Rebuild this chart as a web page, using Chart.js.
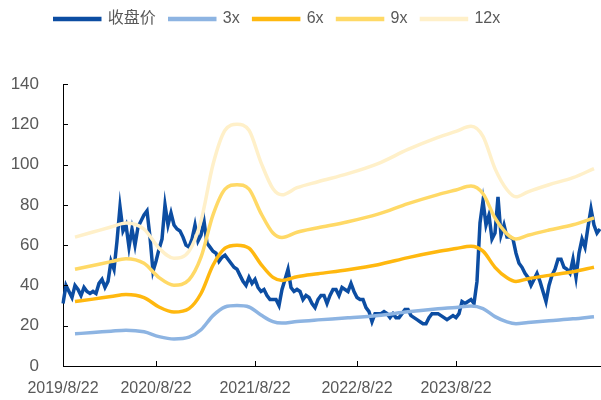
<!DOCTYPE html>
<html>
<head>
<meta charset="utf-8">
<script src="https://cdn.jsdelivr.net/npm/chart.js@4"></script>
<style>
  body { margin: 0; background: #fff; }
  #wrap { width: 601px; height: 400px; }
</style>
</head>
<body>
<div id="wrap"><canvas id="peBand"></canvas></div>
<script>
// closing price, one reading every few trading days
const closePrice = [
  31, 40, 37, 34, 40, 38, 35, 39, 37, 36,
  37, 36, 41, 43, 39, 42, 52, 48, 62, 79,
  67, 70, 59, 68, 60, 69, 72, 75, 77, 64,
  47, 52, 58, 63, 80, 70, 76, 70, 68, 67,
  64, 60, 59, 63, 70, 62, 65, 72, 61, 59,
  57, 56, 52, 54, 55, 53, 51, 49, 48, 45,
  42, 40, 44, 41, 43, 39, 37, 38, 35, 33,
  33, 33, 30, 38, 43, 48, 39, 37, 38, 37,
  33, 35, 34, 31, 29, 33, 35, 35, 31, 35,
  38, 38, 35, 39, 38, 37, 41, 37, 34, 33,
  33, 29, 27, 22, 26, 26, 26, 27, 26, 24,
  26, 24, 24, 26, 28, 28, 25, 24, 23, 22,
  21, 21, 24, 26, 26, 26, 25, 24, 23, 24,
  25, 24, 26, 32, 31, 32, 33, 31, 42, 71,
  82, 70, 75, 63, 66, 84, 65, 70, 64, 64,
  63, 56, 51, 49, 46, 44, 40, 43, 46, 42,
  37, 32, 40, 45, 48, 53, 53, 49, 48, 46,
  53, 44, 56, 63, 59, 69, 78, 70, 66, 68
];

// PE band lines, read at these positions of the price series
const bandAt = [4, 10, 16, 21, 27, 32, 37, 42, 46, 50, 54, 58, 62, 66, 70, 73, 78, 85,
                95, 105, 115, 125, 131, 136, 140, 144, 148, 151, 155, 162, 170, 177];
const pe3 = [16, 16.6, 17.3, 17.8, 17, 14.6, 13.4, 14.3, 18, 25, 29.3, 30, 29.3, 25.3, 22, 21.3, 22.1, 22.9,
             23.9, 25.1, 26.9, 28.4, 29.1, 29.8, 28.5, 24.5, 21.9, 21, 21.6, 22.5, 23.4, 24.5];
const pe6 = [32, 33.2, 34.5, 35.5, 34, 29.3, 26.8, 28.5, 36, 50, 58.5, 60, 58.5, 50.5, 44, 42.5, 44.3, 45.8,
             47.8, 50.3, 53.8, 56.8, 58.3, 59.5, 57, 49, 43.8, 42, 43.3, 45, 46.8, 49];
const pe9 = [48, 49.9, 51.8, 53.3, 51, 43.9, 40.1, 42.8, 54, 75, 87.8, 90, 87.8, 75.8, 66, 63.8, 66.4, 68.6,
             71.6, 75.4, 80.6, 85.1, 87.4, 89.3, 85.5, 73.5, 65.6, 63, 64.9, 67.5, 70.1, 73.5];
const pe12 = [64, 66.5, 69, 71, 68, 58.5, 53.5, 57, 72, 100, 117, 120, 117, 101, 88, 85, 88.5, 91.5,
              95.5, 100.5, 107.5, 113.5, 116.5, 119, 114, 98, 87.5, 84, 86.5, 90, 93.5, 98];

const tickIndex = [0, 31, 64, 98, 131];
const tickText = ['2019/8/22', '2020/8/22', '2021/8/22', '2022/8/22', '2023/8/22'];

const FONT = "Arial, 'Liberation Sans', 'Noto Sans CJK SC', sans-serif";
const GREY = '#595959';

function band(values) {
  return bandAt.map((idx, k) => ({ x: idx, y: values[k] }));
}

function bandSet(label, values, color) {
  return {
    label: label,
    data: band(values),
    borderColor: color,
    backgroundColor: color,
    borderWidth: 3.5,
    pointRadius: 0,
    cubicInterpolationMode: 'monotone',
    order: 0
  };
}

// legend sits higher and leaves room above the plot; ticks point inward
const layoutTweaks = {
  id: 'layoutTweaks',
  beforeInit(chart) {
    const lg = chart.legend;
    const fit = lg.fit;
    lg.fit = function () {
      fit.call(this);
      this.height = 84;
    };
  },
  afterLayout(chart) {
    const lg = chart.legend;
    lg.top = -3;
    lg.left = 0;
    lg.right = 555;
  },
  afterDraw(chart) {
    const ctx = chart.ctx;
    const area = chart.chartArea;
    const xs = chart.scales.x;
    const ys = chart.scales.y;
    ctx.save();
    ctx.strokeStyle = '#000';
    ctx.lineWidth = 1;
    ctx.beginPath();
    ys.ticks.forEach(t => {
      const y = Math.round(ys.getPixelForValue(t.value)) + 0.5;
      ctx.moveTo(area.left, y);
      ctx.lineTo(area.left + 5, y);
    });
    xs.ticks.forEach((t, i) => {
      if (i === 0) return;
      const x = Math.round(xs.getPixelForValue(t.value)) + 0.5;
      ctx.moveTo(x, area.bottom);
      ctx.lineTo(x, area.bottom - 5);
    });
    ctx.stroke();
    ctx.restore();
  }
};

new Chart(document.getElementById('peBand'), {
  type: 'line',
  data: {
    labels: closePrice.map((_, i) => i),
    datasets: [
      {
        label: '收盘价',
        data: closePrice,
        borderColor: '#0c4da2',
        backgroundColor: '#0c4da2',
        borderWidth: 3.5,
        pointRadius: 0,
        tension: 0,
        order: 1
      },
      bandSet('3x', pe3, '#8db4e2'),
      bandSet('6x', pe6, '#ffb80f'),
      bandSet('9x', pe9, '#ffd966'),
      bandSet('12x', pe12, '#fff0c9')
    ]
  },
  options: {
    responsive: true,
    maintainAspectRatio: false,
    animation: false,
    events: [],
    layout: { padding: { left: 0, right: 1, top: 0, bottom: 0 } },
    plugins: {
      tooltip: { enabled: false },
      legend: {
        position: 'top',
        labels: {
          boxWidth: 45,
          boxHeight: 1,
          padding: 14,
          color: GREY,
          font: { family: FONT, size: 16 },
          sort: (a, b) => a.datasetIndex - b.datasetIndex
        }
      }
    },
    scales: {
      x: {
        type: 'category',
        offset: false,
        grid: { display: false },
        border: { display: true, color: '#000', width: 1 },
        afterBuildTicks: (scale) => {
          scale.ticks = tickIndex.map(v => ({ value: v }));
        },
        afterFit: (scale) => { scale.height = 34; },
        ticks: {
          autoSkip: false,
          maxRotation: 0,
          padding: 5,
          color: GREY,
          font: { family: FONT, size: 16 },
          callback: (value, index) => tickText[index]
        }
      },
      y: {
        min: 0,
        max: 140,
        grid: { display: false },
        border: { display: true, color: '#000', width: 1 },
        afterFit: (scale) => { scale.width = 63; },
        ticks: {
          stepSize: 20,
          padding: 16,
          color: GREY,
          font: { family: FONT, size: 17 }
        }
      }
    }
  },
  plugins: [layoutTweaks]
});
</script>
</body>
</html>
